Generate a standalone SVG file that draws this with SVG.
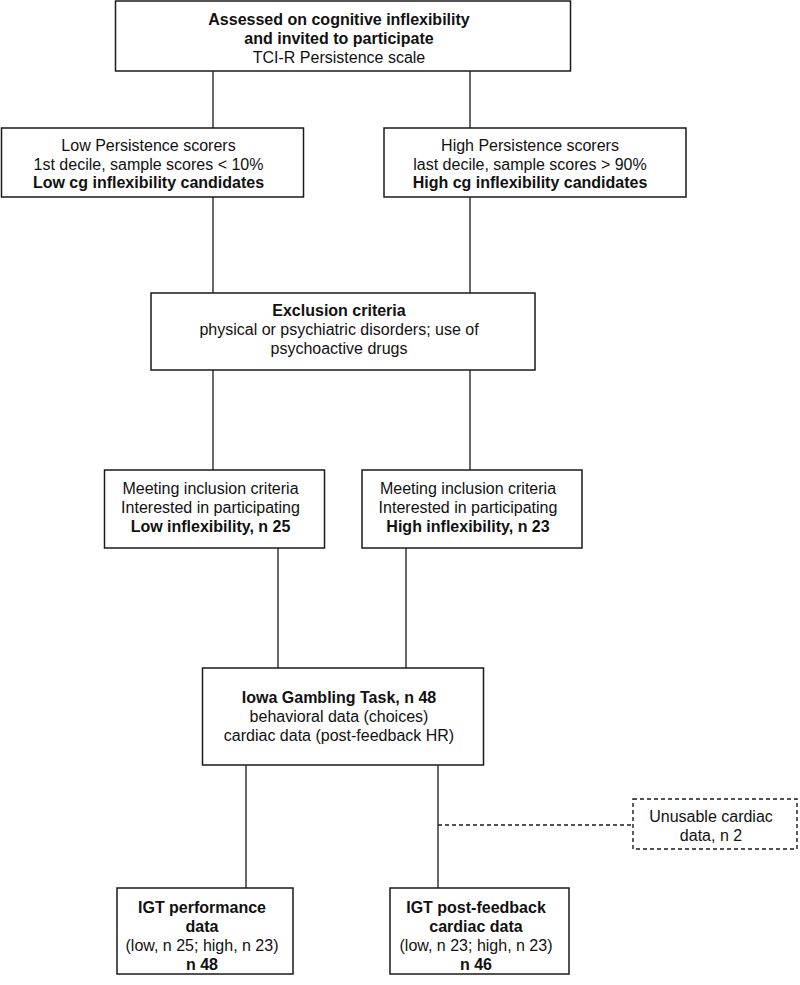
<svg xmlns="http://www.w3.org/2000/svg" width="800" height="985" viewBox="0 0 800 985">
<style>
  .box{fill:#fff;stroke:#1a1a1a;stroke-width:1.5}
  .dbox{fill:#fff;stroke:#1a1a1a;stroke-width:1.4;stroke-dasharray:4 3}
  .ln{fill:none;stroke:#1a1a1a;stroke-width:1.3}
  .dl{fill:none;stroke:#1a1a1a;stroke-width:1.3;stroke-dasharray:4 3}
  text{font-family:"Liberation Sans",Arial,sans-serif;font-size:16px;fill:#111;text-anchor:middle}
  .b{font-weight:bold}
</style>
<rect width="800" height="985" fill="#fff"/>
<g id="connectors">
  <path class="ln" d="M213 71V128M470 71V128"/>
  <path class="ln" d="M213 197V293M470 197V293"/>
  <path class="ln" d="M213 370V470M470 370V470"/>
  <path class="ln" d="M278 548V668M406 548V668"/>
  <path class="ln" d="M246 765V888M438 765V888"/>
  <path class="dl" d="M438 825H633"/>
</g>
<g id="assessed">
  <rect class="box" x="115.5" y="1" width="455" height="70"/>
  <text class="b" x="339" y="25">Assessed on cognitive inflexibility</text>
  <text class="b" x="339" y="44">and invited to participate</text>
  <text x="339" y="63">TCI-R Persistence scale</text>
</g>
<g id="low-persistence">
  <rect class="box" x="1.5" y="128" width="302" height="69"/>
  <text x="148.5" y="151">Low Persistence scorers</text>
  <text x="148.5" y="169.5">1st decile, sample scores &lt; 10%</text>
  <text class="b" x="148.5" y="188">Low cg inflexibility candidates</text>
</g>
<g id="high-persistence">
  <rect class="box" x="384" y="128" width="302" height="69"/>
  <text x="530" y="151">High Persistence scorers</text>
  <text x="530" y="169.5">last decile, sample scores &gt; 90%</text>
  <text class="b" x="530" y="188">High cg inflexibility candidates</text>
</g>
<g id="exclusion">
  <rect class="box" x="151" y="293" width="384" height="77"/>
  <text class="b" x="339" y="316">Exclusion criteria</text>
  <text x="339" y="335">physical or psychiatric disorders; use of</text>
  <text x="339" y="354">psychoactive drugs</text>
</g>
<g id="low-inclusion">
  <rect class="box" x="104.5" y="470" width="220" height="78"/>
  <text x="210.5" y="494">Meeting inclusion criteria</text>
  <text x="210.5" y="513">Interested in participating</text>
  <text class="b" x="210.5" y="532">Low inflexibility, n 25</text>
</g>
<g id="high-inclusion">
  <rect class="box" x="362" y="470" width="220" height="78"/>
  <text x="468" y="494">Meeting inclusion criteria</text>
  <text x="468" y="513">Interested in participating</text>
  <text class="b" x="468" y="532">High inflexibility, n 23</text>
</g>
<g id="igt">
  <rect class="box" x="202.5" y="668" width="281" height="97"/>
  <text class="b" x="339" y="703">Iowa Gambling Task, n 48</text>
  <text x="339" y="722">behavioral data (choices)</text>
  <text x="339" y="741">cardiac data (post-feedback HR)</text>
</g>
<g id="unusable">
  <rect class="dbox" x="633" y="799" width="164" height="50"/>
  <text x="711" y="822">Unusable cardiac</text>
  <text x="711" y="841">data, n 2</text>
</g>
<g id="igt-performance">
  <rect class="box" x="117" y="888" width="176" height="86"/>
  <text class="b" x="202" y="913">IGT performance</text>
  <text class="b" x="202" y="932">data</text>
  <text x="202" y="951">(low, n 25; high, n 23)</text>
  <text class="b" x="202" y="970">n 48</text>
</g>
<g id="igt-cardiac">
  <rect class="box" x="390" y="888" width="179" height="86"/>
  <text class="b" x="476" y="913">IGT post-feedback</text>
  <text class="b" x="476" y="932">cardiac data</text>
  <text x="476" y="951">(low, n 23; high, n 23)</text>
  <text class="b" x="476" y="970">n 46</text>
</g>
</svg>
